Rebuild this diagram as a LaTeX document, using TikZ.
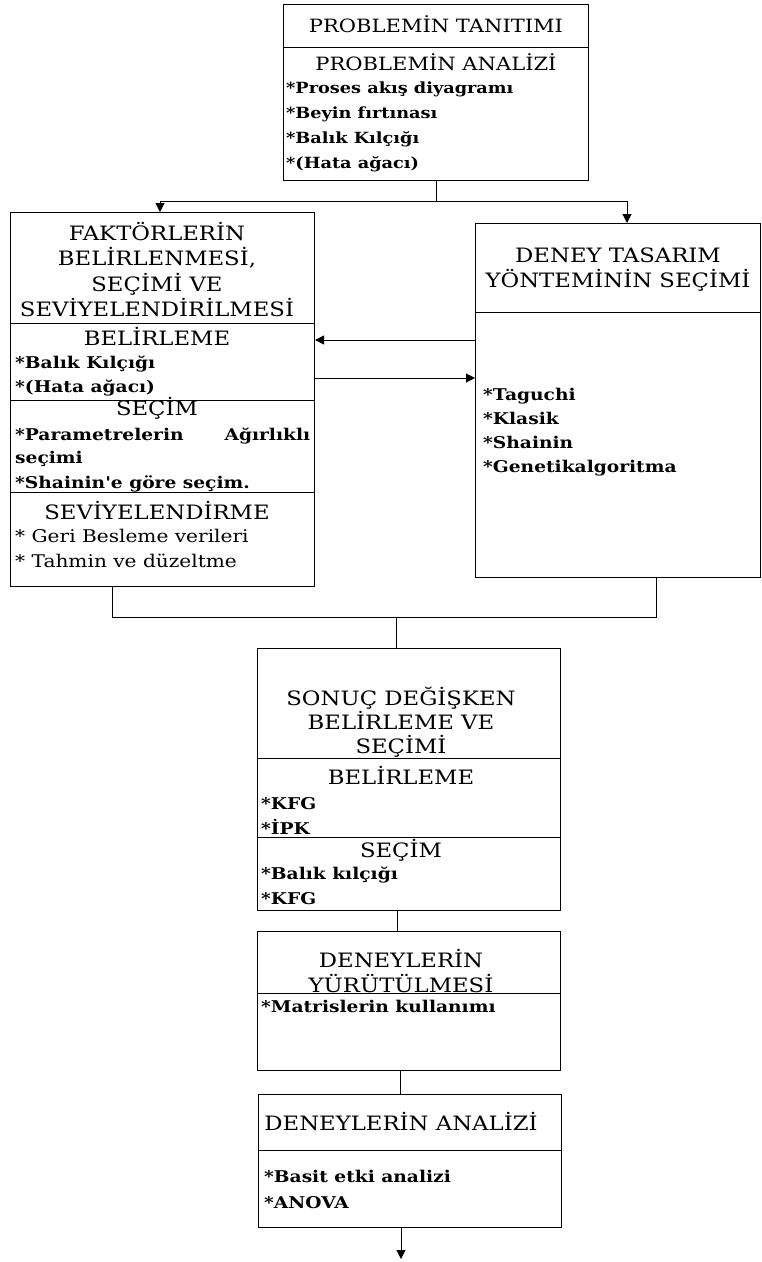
\documentclass[tikz,border=0pt]{standalone}
\usepackage{fontspec}
\setmainfont{DejaVu Serif}[FakeStretch=1.15, Ligatures=TeXOff]
\usetikzlibrary{arrows.meta,calc}
\begin{document}
\begin{tikzpicture}[x=1pt,y=-1pt,
  frame/.style={draw, line width=1.1pt, inner sep=0pt, anchor=north west},
  rule/.style={line width=0.9pt},
  link/.style={line width=1pt},
  arr/.style={link, -{Triangle[length=9pt,width=9pt]}},
  head/.style={inner sep=0pt, anchor=base, font=\fontsize{19.8}{24}\selectfont},
  smallhead/.style={head, font=\fontsize{18.3}{22}\selectfont},
  item/.style={inner sep=0pt, anchor=base west, font=\bfseries\fontsize{16.2}{19}\selectfont},
  smallitem/.style={item, font=\bfseries\fontsize{15.4}{18}\selectfont},
  plainitem/.style={item, font=\fontsize{17.5}{20}\selectfont},
]
\useasboundingbox (0,0) rectangle (762,1262);

% ---------- boxes ----------
\node[frame, minimum width=305pt, minimum height=176pt] (pt) at (283,4) {};
\node[frame, minimum width=304pt, minimum height=374pt] (f) at (10,212) {};
\node[frame, minimum width=285pt, minimum height=354pt] (d) at (475,223) {};
\node[frame, minimum width=303pt, minimum height=262pt] (s) at (257,648) {};
\node[frame, minimum width=303pt, minimum height=139pt] (run) at (257,931) {};
\node[frame, minimum width=303pt, minimum height=133pt] (a) at (258,1094) {};

% ---------- section rules ----------
\draw[rule] (pt.west |- 0,47) -- (pt.east |- 0,47);
\draw[rule] (f.west |- 0,323) -- (f.east |- 0,323);
\draw[rule] (f.west |- 0,400) -- (f.east |- 0,400);
\draw[rule] (f.west |- 0,492) -- (f.east |- 0,492);
\draw[rule] (d.west |- 0,312) -- (d.east |- 0,312);
\draw[rule] (s.west |- 0,758) -- (s.east |- 0,758);
\draw[rule] (s.west |- 0,837) -- (s.east |- 0,837);
\draw[rule] (run.west |- 0,993) -- (run.east |- 0,993);
\draw[rule] (a.west |- 0,1150) -- (a.east |- 0,1150);

% ---------- problem box ----------
\node[smallhead] (pt-title) at (436,32) {PROBLEMİN TANITIMI};
\node[smallhead] (pt-sub) at (436,70) {PROBLEMİN ANALİZİ};
\foreach \t [count=\i] in {*Proses akış diyagramı, *Beyin fırtınası, *Balık Kılçığı, *(Hata ağacı)}
  \node[smallitem] (pt-\i) at (286,{93+25*(\i-1)}) {\t};

% ---------- factor box ----------
\foreach \t [count=\i] in {FAKTÖRLERİN, {BELİRLENMESİ,}, SEÇİMİ VE, SEVİYELENDİRİLMESİ}
  \node[head] (f-title-\i) at (157,{240+25.5*(\i-1)}) {\t};
\node[head] (f-bel) at (157,345) {BELİRLEME};
\node[item] (f-bel-1) at (15,368) {*Balık Kılçığı};
\node[item] (f-bel-2) at (15,392) {*(Hata ağacı)};
\node[head] (f-sec) at (157,415) {SEÇİM};
\node[item] (f-sec-1) at (15,440) {\hbox to 295pt{*Parametrelerin\hfill Ağırlıklı}};
\node[item] (f-sec-2) at (15,463) {seçimi};
\node[item] (f-sec-3) at (15,488) {*Shainin'e göre seçim.};
\node[head] (f-sev) at (157,519) {SEVİYELENDİRME};
\node[plainitem] (f-sev-1) at (15,542) {* Geri Besleme verileri};
\node[plainitem] (f-sev-2) at (15,567) {* Tahmin ve düzeltme};

% ---------- design method box ----------
\node[head] (d-title-1) at (618,262) {DENEY TASARIM};
\node[head] (d-title-2) at (618,287) {YÖNTEMİNİN SEÇİMİ};
\foreach \t [count=\i] in {*Taguchi, *Klasik, *Shainin, *Genetikalgoritma}
  \node[item] (d-\i) at (483,{400+24.3*(\i-1)}) {\t};

% ---------- response variable box ----------
\foreach \t [count=\i] in {SONUÇ DEĞİŞKEN, BELİRLEME VE, SEÇİMİ}
  \node[head] (s-title-\i) at (401,{705+24*(\i-1)}) {\t};
\node[head] (s-bel) at (401,784) {BELİRLEME};
\node[item] (s-bel-1) at (261,809) {*KFG};
\node[item] (s-bel-2) at (261,834) {*İPK};
\node[head] (s-sec) at (401,857) {SEÇİM};
\node[item] (s-sec-1) at (261,879) {*Balık kılçığı};
\node[item] (s-sec-2) at (261,904) {*KFG};

% ---------- run box ----------
\node[head] (run-title-1) at (401,967) {DENEYLERİN};
\node[head] (run-title-2) at (401,992) {YÜRÜTÜLMESİ};
\node[item] (run-1) at (261,1012) {*Matrislerin kullanımı};

% ---------- analysis box ----------
\node[head] (a-title) at (401,1130) {DENEYLERİN ANALİZİ};
\node[item] (a-1) at (264,1182) {*Basit etki analizi};
\node[item] (a-2) at (264,1208) {*ANOVA};

% ---------- connectors ----------
\draw[link] (pt.south) -- (pt.south |- 0,201) coordinate (fork);
\draw[arr] (fork) -| ($(f.north west)+(150,0)$);
\draw[arr] (fork) -| ($(d.north west)+(152,0)$);
\draw[arr] (d.west |- 0,340) -- (f.east |- 0,340);
\draw[arr] (f.east |- 0,378) -- (d.west |- 0,378);
\coordinate (merge) at (396,617);
\draw[link] ($(f.south west)+(102,0)$) |- (merge) -| ($(d.south west)+(181,0)$);
\draw[link] (merge) -- (merge |- s.north);
\draw[link] ($(s.south west)+(140,0)$) -- ($(run.north west)+(140,0)$);
\draw[link] ($(run.south west)+(143,0)$) -- ($(a.north west)+(142,0)$);
\coordinate (end) at (401,1259);
\draw[arr] ($(a.south west)+(143,0)$) -- (end);
\end{tikzpicture}
\end{document}
